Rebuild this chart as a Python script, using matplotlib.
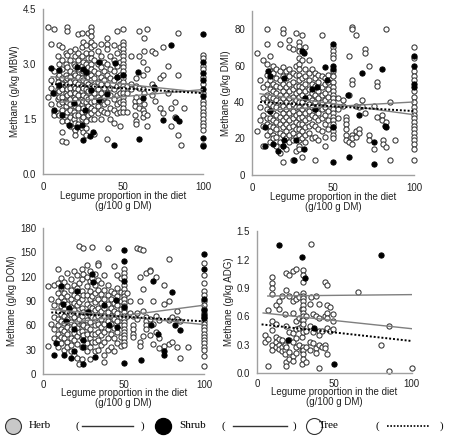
import matplotlib
matplotlib.use('Agg')
import matplotlib.pyplot as plt

plt.rcParams['font.family'] = ['Liberation Sans', 'DejaVu Sans']

# Methane (g/kg MBW) - open points grouped by legume proportion
mbw_open = [
    (3, [4.0, 2.1]), (5, [3.55, 2.55, 2.35, 1.9]), (7, [3.95, 2.8, 2.2, 1.7, 1.6]),
    (9, [3.2, 2.65, 2.5, 2.3, 2.05, 1.65]), (10, [3.5, 3.0, 2.7, 2.4, 2.25, 2.1, 1.9, 1.6]),
    (12, [3.45, 3.1, 2.85, 2.6, 2.45, 2.3, 2.1, 1.95, 1.75, 1.45, 1.15, 0.9]),
    (14, [3.3, 3.0, 2.7, 2.55, 2.4, 2.2, 2.0, 1.85, 1.6, 0.88]),
    (15, [4.0, 3.9, 3.25, 2.9, 2.6, 2.45, 2.3, 2.15, 1.95, 1.7, 1.45]),
    (17, [3.35, 3.1, 2.8, 2.65, 2.5, 2.35, 2.2, 2.05, 1.9, 1.75, 1.55, 1.3]),
    (19, [3.0, 2.75, 2.55, 2.4, 2.25, 2.1, 1.9, 1.7, 1.5, 1.25]),
    (20, [3.4, 3.2, 2.95, 2.7, 2.5, 2.35, 2.2, 2.05, 1.85, 1.6, 1.4, 1.2, 1.05]),
    (22, [3.8, 3.3, 3.1, 2.85, 2.65, 2.45, 2.3, 2.15, 1.95, 1.8, 1.6, 1.35]),
    (24, [3.85, 3.45, 3.2, 2.95, 2.75, 2.6, 2.4, 2.25, 2.05, 1.9, 1.7, 1.5, 1.25]),
    (25, [3.6, 3.05, 2.8, 2.55, 2.35, 2.15, 2.0, 1.8, 1.55, 1.15]),
    (27, [3.5, 3.3, 3.0, 2.75, 2.5, 2.3, 2.1, 1.95, 1.7, 1.45, 1.25, 1.05]),
    (28, [3.85, 3.15, 2.9, 2.65, 2.45, 2.25, 2.05, 1.85, 1.6]),
    (30, [4.0, 3.9, 3.75, 3.6, 3.45, 3.3, 3.15, 3.0, 2.85, 2.7, 2.55, 2.4, 2.25, 2.1, 1.95, 1.8, 1.65, 1.5]),
    (32, [3.5, 3.1, 2.8, 2.6, 2.4, 2.2, 2.0, 1.75, 1.5, 1.1]),
    (34, [3.35, 3.0, 2.75, 2.5, 2.3, 2.1, 1.85, 1.65]),
    (36, [3.55, 3.2, 2.9, 2.65, 2.45, 2.2, 2.0, 1.75, 1.5]),
    (38, [3.05, 2.8, 2.55, 2.35, 2.1, 1.9, 1.7]),
    (40, [3.7, 3.55, 3.4, 3.0, 2.7, 2.45, 2.2, 1.95, 1.65, 0.95]),
    (42, [3.2, 2.85, 2.6, 2.35, 2.15, 1.8, 1.5]),
    (44, [3.5, 3.1, 2.8, 2.55, 2.3, 2.05, 1.75, 1.4]),
    (46, [3.9, 3.3, 2.95, 2.65, 2.4, 2.15, 1.9, 1.65]),
    (48, [3.45, 3.05, 2.7, 2.45, 2.2, 1.95, 1.7, 1.3]),
    (50, [3.95, 3.6, 3.5, 3.4, 3.3, 3.2, 3.1, 3.0, 2.9, 2.8, 2.7, 2.6, 2.5, 2.4, 2.3, 2.2, 2.1, 2.0, 1.9, 1.8, 1.7]),
    (52, [2.4, 2.2, 1.7]), (55, [3.2, 2.45, 2.3]), (57, [2.0, 1.85, 1.6]),
    (58, [2.6, 2.4, 2.1, 1.45, 1.35]), (60, [3.9, 3.2, 2.35, 2.0, 1.8]),
    (62, [3.05, 2.7, 2.3, 1.75, 1.55]), (63, [3.7, 3.35, 2.2, 1.9, 1.65]),
    (65, [3.95, 2.85, 1.6, 1.3]), (68, [3.35, 2.45, 2.15]), (70, [3.3, 2.3, 2.0]),
    (73, [2.6, 1.8]), (75, [3.45, 2.7, 1.65]), (78, [2.95, 2.2]), (80, [1.8, 1.3]),
    (82, [1.95, 1.55]), (84, [3.85, 2.7, 1.05]), (86, [0.78]), (88, [1.8]),
    (100, [3.25, 3.15, 2.95, 2.85, 2.65, 2.45, 2.2, 2.0, 1.9, 1.8, 1.7, 1.6, 1.5, 1.4, 1.3, 1.2, 0.8]),
]
mbw_shrub_x = [100, 100, 100, 100, 100, 100, 100, 100, 80, 85, 83, 75, 60, 59, 50, 44, 45, 35,
               29, 31, 25, 24, 21, 16, 12, 7, 6, 10, 5, 10, 21, 25, 27, 30, 35, 40, 46, 62, 69, 19, 26]
mbw_shrub_y = [3.81, 3.04, 2.75, 2.56, 2.31, 2.11, 0.97, 0.75, 3.5, 1.43, 1.52, 1.47, 0.95, 2.79,
               2.7, 0.8, 3.02, 3.05, 1.02, 1.13, 0.93, 1.32, 1.29, 1.34, 1.61, 1.75, 2.2, 2.43, 2.88,
               2.84, 2.9, 2.86, 2.79, 2.29, 2.02, 2.18, 2.65, 2.06, 2.38, 1.93, 1.75]

# Methane (g/kg DMI)
dmi_open = [
    (3, [67, 24]), (5, [52, 37, 30]), (7, [63, 48, 42, 33, 27, 16]),
    (9, [80, 72, 61, 55, 50, 44, 40, 36, 31, 28, 22]),
    (11, [65, 57, 52, 47, 43, 39, 35, 31, 27, 24, 18]),
    (13, [60, 56, 50, 46, 42, 38, 34, 30, 26, 22, 20]),
    (15, [58, 53, 49, 45, 41, 37, 33, 29, 25, 21, 16]),
    (17, [72, 57, 52, 48, 44, 40, 36, 32, 28, 23, 18, 12]),
    (19, [80, 78, 59, 54, 50, 46, 42, 38, 34, 30, 26, 22, 16, 7]),
    (21, [57, 53, 48, 44, 40, 36, 32, 28, 24, 20, 14]),
    (23, [74, 70, 58, 54, 50, 46, 42, 38, 34, 30, 26, 22, 18]),
    (25, [69, 56, 51, 47, 43, 39, 35, 31, 27, 23, 19, 8]),
    (27, [78, 60, 55, 49, 45, 41, 37, 33, 29, 25, 21, 13]),
    (29, [73, 71, 68, 64, 61, 58, 55, 52, 49, 46, 43, 40, 37, 34, 31, 28, 25, 22, 19, 16, 14]),
    (31, [77, 63, 53, 48, 44, 40, 36, 32, 28, 24, 20, 10]),
    (33, [70, 58, 54, 50, 46, 42, 38, 34, 30, 26, 22, 18]),
    (35, [63, 56, 52, 47, 43, 39, 35, 31, 27, 23]),
    (37, [58, 50, 45, 41, 37, 33, 28, 20]),
    (39, [56, 53, 49, 44, 40, 36, 32, 27, 21, 8]),
    (41, [55, 51, 46, 42, 38, 34, 30, 25, 19]),
    (43, [77, 54, 48, 44, 40, 36, 31, 24]),
    (45, [53, 50, 45, 41, 37, 33, 28, 21, 16]),
    (47, [55, 51, 47, 43, 39, 35, 30, 25]),
    (50, [70, 68, 66, 64, 57, 54, 51, 48, 46, 44, 42, 40, 38, 36, 34, 32, 30, 28, 26, 24, 22, 20]),
    (53, [42, 36, 31]), (56, [41, 38]), (58, [32, 30, 28, 25, 22, 19]), (60, [65, 44, 18]),
    (62, [81, 80, 52, 50, 22, 20, 17]), (64, [77, 38, 24, 21]), (66, [37, 25, 23]),
    (68, [41, 38]), (70, [69, 67, 34]), (72, [60, 22, 19]), (75, [38, 14]),
    (77, [51, 49, 32]), (80, [33, 30]), (81, [19, 17]), (83, [80, 29, 15]), (85, [40, 8]),
    (88, [19]),
    (100, [70, 64, 57, 54, 52, 46, 43, 40, 37, 35, 33, 31, 29, 27, 25, 23, 21, 19, 17, 14, 8]),
]
dmi_shrub_x = [10, 11, 8, 8, 11, 13, 16, 19, 20, 20, 26, 27, 31, 32, 32, 33, 37, 39, 40, 45, 46,
               50, 50, 50, 50, 50, 59, 60, 66, 68, 75, 75, 80, 83, 82, 100, 100, 100, 100]
dmi_shrub_y = [57, 54, 16, 26, 35, 17, 13, 16, 19, 53, 8, 19, 68, 67, 14, 42, 47, 36, 48, 59, 52,
               72, 60, 58, 26, 7, 44, 10, 33, 56, 18, 6, 58, 26, 27, 65, 60, 50, 48]

# Methane (g/kg DOM)
dom_open = [
    (3, [108, 35]), (5, [92, 62]), (7, [110, 85, 70, 55, 45]),
    (9, [130, 112, 100, 90, 78, 68, 60, 50, 42, 33]),
    (11, [118, 106, 95, 84, 74, 65, 55, 46, 38]),
    (13, [113, 100, 90, 80, 72, 63, 53, 44, 30]),
    (15, [125, 108, 96, 87, 77, 68, 58, 49, 40, 33]),
    (17, [117, 104, 93, 83, 74, 64, 55, 45, 36, 28]),
    (19, [127, 110, 98, 88, 79, 70, 61, 51, 42, 24]),
    (21, [122, 106, 95, 85, 75, 66, 57, 47, 37, 20]),
    (22, [158, 112, 89, 68, 52, 12]),
    (24, [130, 117, 102, 92, 81, 71, 62, 53, 44, 33, 18]),
    (25, [155, 124, 97, 76, 60, 48]),
    (27, [134, 120, 108, 98, 87, 77, 67, 58, 49, 38, 28]),
    (29, [127, 115, 103, 93, 83, 73, 64, 55, 45, 33, 18]),
    (30, [157, 118, 96, 82, 70, 50, 40]),
    (32, [124, 110, 100, 89, 79, 69, 60, 50, 40, 28]),
    (34, [137, 135, 116, 104, 92, 81, 72, 62, 52, 42, 30]),
    (36, [112, 99, 88, 78, 68, 58, 48, 36]),
    (38, [122, 104, 93, 82, 72, 62, 52, 40, 24, 15]),
    (40, [155, 110, 97, 86, 76, 66, 56, 44, 30]),
    (42, [102, 92, 82, 72, 62, 50, 34]),
    (44, [133, 100, 88, 78, 68, 57, 45, 28]),
    (46, [122, 106, 96, 85, 75, 65, 52, 38]),
    (48, [118, 101, 90, 80, 70, 60, 46, 35]),
    (50, [130, 125, 120, 110, 105, 100, 96, 92, 88, 84, 80, 76, 72, 68, 64, 60, 56, 52, 48, 44, 40, 36]),
    (52, [100, 72]), (54, [90, 75]), (56, [71, 60, 55, 50, 46]), (58, [155, 75, 68]),
    (60, [154, 120, 90, 40, 35]), (62, [153, 105, 78, 47]), (64, [125, 70, 65, 60, 55]),
    (66, [128, 127, 68, 48]), (68, [90, 62, 37]), (70, [120, 72, 52]), (72, [67, 45, 32]),
    (75, [110, 86, 35]), (78, [142, 90, 67, 37]), (80, [70, 40]), (83, [78, 68, 33]),
    (85, [65, 20]), (90, [33]),
    (100, [137, 122, 112, 102, 98, 90, 85, 80, 75, 70, 66, 62, 58, 54, 50, 46, 42, 38, 34, 30, 22, 10]),
]
dom_shrub_x = [7, 8, 11, 12, 13, 14, 16, 17, 19, 19, 21, 25, 25, 25, 28, 30, 31, 32, 38, 41, 45,
               46, 50, 50, 50, 50, 50, 61, 67, 68, 71, 75, 75, 80, 82, 85, 100, 100, 100, 100, 100, 100]
dom_shrub_y = [24, 38, 108, 87, 24, 65, 81, 20, 56, 28, 103, 42, 34, 13, 77, 123, 113, 21, 85, 60,
               91, 58, 153, 139, 115, 83, 14, 17, 60, 115, 50, 28, 23, 101, 61, 54, 148, 129, 92,
               79, 73, 69]

# Methane (g/kg ADG)
adg_open = [
    (5, [0.33, 0.4]), (7, [0.67, 0.36, 0.08]),
    (10, [1.02, 0.95, 0.9, 0.84, 0.55, 0.46, 0.3, 0.24]),
    (12, [0.72, 0.52, 0.38, 0.33, 0.28]), (14, [0.76, 0.68, 0.36, 0.3, 0.26]),
    (16, [0.82, 0.35, 0.28, 0.23]), (18, [0.62, 0.3, 0.25, 0.2]),
    (19, [1.06, 0.88, 0.5, 0.28, 0.12, 0.08]), (21, [1.04, 0.82, 0.44, 0.35, 0.22, 0.15]),
    (23, [1.08, 0.76, 0.64, 0.42, 0.33, 0.18, 0.13]),
    (25, [1.1, 0.84, 0.78, 0.55, 0.47, 0.37, 0.28, 0.21]),
    (27, [0.8, 0.58, 0.48, 0.3]), (29, [0.68, 0.56, 0.5, 0.38, 0.24, 0.1]),
    (30, [1.09, 1.04, 0.96, 0.85, 0.82, 0.79, 0.76, 0.72, 0.68, 0.64, 0.6, 0.56, 0.52, 0.44, 0.28, 0.24, 0.2, 0.15]),
    (32, [0.6, 0.45, 0.28, 0.12]), (34, [0.73, 0.5, 0.33, 0.25]), (35, [1.36, 0.8]),
    (36, [0.62, 0.44, 0.32]), (38, [0.82, 0.6, 0.27, 0.21]),
    (40, [0.73, 0.58, 0.45, 0.4, 0.3, 0.06]), (42, [0.45, 0.28]),
    (44, [0.96, 0.6, 0.3, 0.27]), (45, [0.93, 0.72, 0.64, 0.58, 0.48, 0.2]),
    (47, [0.7, 0.45]), (49, [0.63, 0.55, 0.47]), (65, [0.86]), (80, [0.3]),
    (85, [0.5, 0.02]), (100, [0.06]),
]
adg_shrub_x = [14, 29, 31, 20, 37, 50, 80]
adg_shrub_y = [1.352, 1.23, 1.008, 0.35, 0.474, 0.098, 1.247]

# regression lines: (intercept, slope, x start)
mbw_fits = {'herb': (2.673, -0.00453, 5), 'shrub': (1.911, 0.00389, 10), 'tree': (2.463, -0.00263, 5)}
dmi_fits = {'herb': (45.1, -0.121, 5), 'shrub': (35.0, 0.05, 10), 'tree': (40.26, -0.0526, 5)}
dom_fits = {'herb': (81.0, -0.2, 5), 'shrub': (59.0, 0.26, 10), 'tree': (76.6, -0.1158, 5)}
adg_fits = {'herb': (0.643, -0.00173, 4), 'shrub': (0.814, 0.00016, 7), 'tree': (0.521, -0.00181, 3)}


def expand(cols):
    xs, ys = [], []
    for x, col in cols:
        for y in col:
            xs.append(x)
            ys.append(y)
    return xs, ys


fig = plt.figure(figsize=(4.5, 4.37), dpi=100)

panels = [
    ([0.096, 0.602, 0.356, 0.378], mbw_open, mbw_shrub_x, mbw_shrub_y, mbw_fits,
     (0, 4.5), [0, 1.5, 3.0, 4.5], ['0.0', '1.5', '3.0', '4.5'], 'Methane (g/kg MBW)', 6),
    ([0.560, 0.600, 0.360, 0.375], dmi_open, dmi_shrub_x, dmi_shrub_y, dmi_fits,
     (0, 90), [0, 20, 40, 60, 80], ['0', '20', '40', '60', '80'], 'Methane (g/kg DMI)', 6),
    ([0.096, 0.144, 0.358, 0.334], dom_open, dom_shrub_x, dom_shrub_y, dom_fits,
     (0, 180), [0, 30, 60, 90, 120, 150, 180], ['0', '30', '60', '90', '120', '150', '180'],
     'Methane (g/kg DOM)', 4),
    ([0.571, 0.146, 0.344, 0.325], adg_open, adg_shrub_x, adg_shrub_y, adg_fits,
     (0, 1.5), [0, 0.3, 0.6, 0.9, 1.2, 1.5], ['0.0', '0.3', '0.6', '0.9', '1.2', '1.5'],
     'Methane (g/kg ADG)', 4),
]

for rect, opn, sx, sy, fits, ylim, yt, ytl, ylab, xpad in panels:
    ax = fig.add_axes(rect)
    ox, oy = expand(opn)
    ax.scatter(ox, oy, s=14, facecolor='white', edgecolor='#333333', linewidth=0.75,
               clip_on=False, zorder=2)
    ax.scatter(sx, sy, s=14, facecolor='black', edgecolor='black', linewidth=0.75,
               clip_on=False, zorder=3)
    for key in ['herb', 'shrub', 'tree']:
        b, m, x0 = fits[key]
        xx = [x0, 100]
        yy = [b + m * x0, b + m * 100]
        if key == 'tree':
            ax.plot(xx, yy, color='black', linestyle=(0, (1, 1)), linewidth=1.4, zorder=4)
        else:
            ax.plot(xx, yy, color='#7f7f7f', linewidth=1.0, zorder=4)
    ax.set_xlim(0, 100)
    ax.set_ylim(*ylim)
    ax.set_xticks([0, 50, 100])
    ax.set_yticks(yt)
    ax.set_yticklabels(ytl)
    for s in ['top', 'right']:
        ax.spines[s].set_visible(False)
    for s in ['left', 'bottom']:
        ax.spines[s].set_color('#a0a0a0')
        ax.spines[s].set_linewidth(1.0)
    ax.tick_params(axis='both', length=0, labelsize=7, colors='#222222')
    ax.tick_params(axis='y', pad=5)
    ax.tick_params(axis='x', pad=xpad)
    ax.set_xlabel('Legume proportion in the diet\n(g/100 g DM)', fontsize=7, linespacing=1.0,
                  labelpad=-1, color='#222222')
    ax.set_ylabel(ylab, fontsize=7, labelpad=2, color='#222222')

# legend strip along the bottom
lg = fig.add_axes([0, 0, 1, 1])
lg.set_xlim(0, 450)
lg.set_ylim(437, 0)
lg.axis('off')
ly = 426
lg.plot([13], [ly], marker='o', markersize=11.5, markerfacecolor='#c8c8c8',
        markeredgecolor='#333333', markeredgewidth=0.8)
lg.text(29, ly, 'Herb', family='Liberation Serif', fontsize=8, va='center')
lg.text(75, ly, '(', family='Liberation Serif', fontsize=8, va='center')
lg.plot([82, 133], [ly, ly], color='#333333', linewidth=1.0)
lg.text(141, ly, ')', family='Liberation Serif', fontsize=8, va='center')
lg.plot([163], [ly], marker='o', markersize=11.5, markerfacecolor='black',
        markeredgecolor='black')
lg.text(179, ly, 'Shrub', family='Liberation Serif', fontsize=8, va='center')
lg.text(222, ly, '(', family='Liberation Serif', fontsize=8, va='center')
lg.plot([233, 287], [ly, ly], color='#333333', linewidth=1.0)
lg.text(293, ly, ')', family='Liberation Serif', fontsize=8, va='center')
lg.plot([314], [ly], marker='o', markersize=11.5, markerfacecolor='white',
        markeredgecolor='#333333', markeredgewidth=0.8)
lg.text(319, ly, 'Tree', family='Liberation Serif', fontsize=8, va='center')
lg.text(376, ly, '(', family='Liberation Serif', fontsize=8, va='center')
lg.plot([387, 430], [ly, ly], color='black', linestyle=(0, (1, 1)), linewidth=1.2)
lg.text(440, ly, ')', family='Liberation Serif', fontsize=8, va='center')

fig.savefig('out.png', dpi=100)
